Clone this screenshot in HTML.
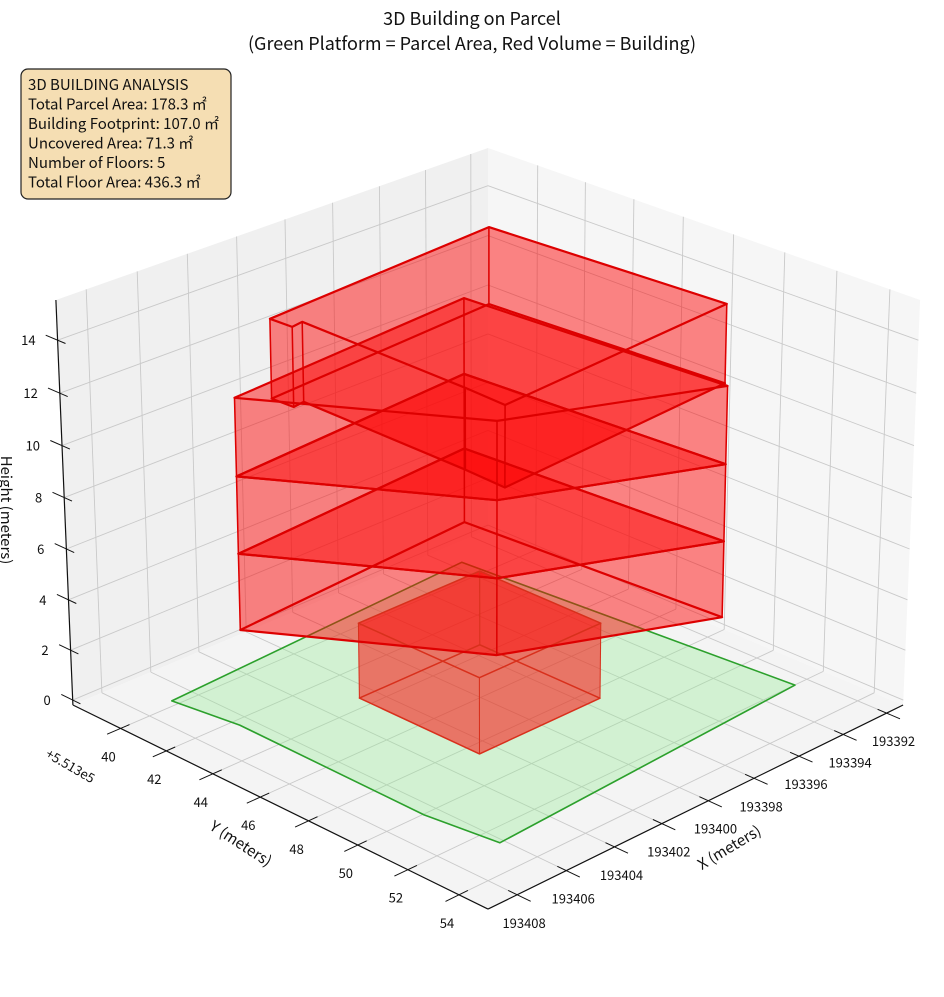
<!DOCTYPE html>
<html><head><meta charset="utf-8"><style>
html,body{margin:0;padding:0;background:#fff;}
svg text{font-family:"Noto Sans CJK JP","Liberation Sans",sans-serif;}
</style></head><body>
<svg id="chart" xmlns="http://www.w3.org/2000/svg" width="944" height="992" viewBox="0 0 944 992">
<g id="panes"></g>
<g id="grid"></g>
<g id="axes"></g>
<g id="parcel"></g>
<g id="building"></g>
<text x="472" y="25" text-anchor="middle" font-size="18" fill="#111">3D Building on Parcel</text>
<text x="472" y="50" text-anchor="middle" font-size="18" fill="#111">(Green Platform = Parcel Area, Red Volume = Building)</text>
<g>
<rect x="21" y="69" width="210" height="130" rx="7" fill="#f5deb3" stroke="#222" stroke-width="1.2"/>
<text x="28" y="90" font-size="15" fill="#111">3D BUILDING ANALYSIS</text>
<text x="28" y="109.5" font-size="15" fill="#111">Total Parcel Area: 178.3 ㎡</text>
<text x="28" y="129" font-size="15" fill="#111">Building Footprint: 107.0 ㎡</text>
<text x="28" y="148.5" font-size="15" fill="#111">Uncovered Area: 71.3 ㎡</text>
<text x="28" y="168" font-size="15" fill="#111">Number of Floors: 5</text>
<text x="28" y="187.5" font-size="15" fill="#111">Total Floor Area: 436.3 ㎡</text>
</g>
<text transform="translate(1,510) rotate(90)" text-anchor="middle" font-size="15" fill="#111">Height (meters)</text>
<text transform="translate(238,848) rotate(33)" text-anchor="middle" font-size="15" fill="#111">Y (meters)</text>
<text transform="translate(732,852) rotate(-31)" text-anchor="middle" font-size="15" fill="#111">X (meters)</text>
<text transform="translate(68,770) rotate(30)" text-anchor="middle" font-size="13" fill="#111">+5.513e5</text>
</svg>
<script>
// ---- data ----
const xTicks = [193392,193394,193396,193398,193400,193402,193404,193406,193408];
const yTicks = [551340,551342,551344,551346,551348,551350,551352,551354];
const yTickLabels = ['40','42','44','46','48','50','52','54'];
const zTicks = [0,2,4,6,8,10,12,14];
const parcelX = [193407.07,193406.69,193406.75,193406.39,193392.81,193393.85];
const parcelY = [551339.98,551342.53,551350.26,551352.91,551352.22,551339.24];
const lowerX = [193397.69,193402.89,193402.89,193397.69];
const lowerY = [551343.74,551343.74,551348.74,551348.74];
const midX = [193405.74,193401.46,193394.78,193395.48];
const midY = [551341.64,551348.07,551350.97,551340.95];
const topX = [193405.01,193395.28,193394.69,193404.63,193404.56,193404.50,193404.97];
const topY = [551342.43,551341.81,551350.79,551351.41,551349.81,551343.24,551343.31];
const floorBase = [0,3,6,9,12];
const floorHeight = [3,3,3,3,3];
const floorShape = ['lower','mid','mid','mid','top'];

// ---- axis functions ----
const XMIN=193391.23, XMAX=193409.17, YMIN=551337.88, YMAX=551355.12, ZMIN=-0.2, ZMAX=15.5;
function P(x,y,z){
  const a=(x-XMIN)/(XMAX-XMIN), b=(y-YMIN)/(YMAX-YMIN), c=(z-ZMIN)/(ZMAX-ZMIN);
  const h=b-a, e=a+b-1, w=1-0.0777*e-0.0402*(c-0.5);
  return [488+423.4*h/w, 506.6+(176.9*e-404.8*(c-0.5))/w];
}
const NS='http://www.w3.org/2000/svg';
function mk(tag,parent,attrs){const el=document.createElementNS(NS,tag);for(const k in attrs)el.setAttribute(k,attrs[k]);parent.appendChild(el);return el;}
function pts(list){return list.map(p=>P(p[0],p[1],p[2]).map(v=>v.toFixed(1)).join(',')).join(' ');}
function line(parent,p1,p2,stroke,sw){const a=P(...p1),b=P(...p2);return mk('line',parent,{x1:a[0].toFixed(1),y1:a[1].toFixed(1),x2:b[0].toFixed(1),y2:b[1].toFixed(1),stroke:stroke,'stroke-width':sw});}

const panes=document.getElementById('panes'), grid=document.getElementById('grid'), axes=document.getElementById('axes');
let el;
el=mk('polygon',panes,{points:pts([[XMIN,YMIN,ZMIN],[XMAX,YMIN,ZMIN],[XMAX,YMIN,ZMAX],[XMIN,YMIN,ZMAX]]),fill:'#f0f0f0'});


el=mk('polygon',panes,{points:pts([[XMIN,YMIN,ZMIN],[XMIN,YMAX,ZMIN],[XMIN,YMAX,ZMAX],[XMIN,YMIN,ZMAX]]),fill:'#f6f6f6'});


el=mk('polygon',panes,{points:pts([[XMIN,YMIN,ZMIN],[XMAX,YMIN,ZMIN],[XMAX,YMAX,ZMIN],[XMIN,YMAX,ZMIN]]),fill:'#f4f4f4'});



const GC='#c9c9c9';
xTicks.forEach(x=>{
  el=line(grid,[x,YMIN,ZMIN],[x,YMAX,ZMIN],GC,0.9);
  
  
  el=line(grid,[x,YMIN,ZMIN],[x,YMIN,ZMAX],GC,0.9);
  
  
});
yTicks.forEach(y=>{
  el=line(grid,[XMIN,y,ZMIN],[XMAX,y,ZMIN],GC,0.9);
  
  
  el=line(grid,[XMIN,y,ZMIN],[XMIN,y,ZMAX],GC,0.9);
  
  
});
zTicks.forEach(z=>{
  el=line(grid,[XMIN,YMIN,z],[XMAX,YMIN,z],GC,0.9);
  
  
  el=line(grid,[XMIN,YMIN,z],[XMIN,YMAX,z],GC,0.9);
  
  
});

// axis lines
el=line(axes,[XMAX,YMIN,ZMIN],[XMAX,YMAX,ZMIN],'#111',1.2);


el=line(axes,[XMIN,YMAX,ZMIN],[XMAX,YMAX,ZMIN],'#111',1.2);


el=line(axes,[XMAX,YMIN,ZMIN],[XMAX,YMIN,ZMAX],'#111',1.2);



const dY=(YMAX-YMIN), dX=(XMAX-XMIN);
xTicks.forEach((x,i)=>{
  el=line(axes,[x,YMAX-0.02*dY,ZMIN],[x,YMAX+0.03*dY,ZMIN],'#111',1);
  
  
  const p=P(x,YMAX,ZMIN);
  const t=mk('text',axes,{x:(p[0]+7).toFixed(1),y:(p[1]+33).toFixed(1),'text-anchor':'middle','font-size':'13',fill:'#111'});
  t.textContent=String(x);
  
  
});
yTicks.forEach((y,i)=>{
  el=line(axes,[XMAX-0.02*dX,y,ZMIN],[XMAX+0.03*dX,y,ZMIN],'#111',1);
  
  
  const p=P(XMAX,y,ZMIN);
  const t=mk('text',axes,{x:(p[0]-12).toFixed(1),y:(p[1]+33).toFixed(1),'text-anchor':'middle','font-size':'13',fill:'#111'});
  t.textContent=yTickLabels[i];
  
  
});
zTicks.forEach(z=>{
  el=line(axes,[XMAX,YMIN+0.02*dY,z],[XMAX,YMIN-0.03*dY,z],'#111',1);
  
  
  const p=P(XMAX,YMIN,z);
  const t=mk('text',axes,{x:(p[0]-22).toFixed(1),y:(p[1]+5).toFixed(1),'text-anchor':'end','font-size':'13',fill:'#111'});
  t.textContent=String(z);
  
  
});

// parcel
const parcel=document.getElementById('parcel');
el=mk('polygon',parcel,{points:pts(parcelX.map((x,i)=>[x,parcelY[i],0])),fill:'rgba(144,238,144,0.33)',stroke:'#2ca02c','stroke-width':1.6,'stroke-linejoin':'round'});



// building
const bld=document.getElementById('building');
const shapes={lower:[lowerX,lowerY],mid:[midX,midY],top:[topX,topY]};
const edges=[];
floorBase.forEach((z0,fi)=>{
  const [xs,ys]=shapes[floorShape[fi]];
  const z1=z0+floorHeight[fi];
  const n=xs.length;
  const op = fi===0 ? 0.3 : 0.27;
  const g=mk('g',bld,{});
  
  
  const bot=xs.map((x,i)=>[x,ys[i],z0]), top=xs.map((x,i)=>[x,ys[i],z1]);
  let f=mk('polygon',g,{points:pts(bot),fill:'#ff0000','fill-opacity':op});
  
  
  for(let i=0;i<n;i++){
    const j=(i+1)%n;
    f=mk('polygon',g,{points:pts([bot[i],bot[j],top[j],top[i]]),fill:'#ff0000','fill-opacity':op});
    
    
  }
  f=mk('polygon',g,{points:pts(top),fill:'#ff0000','fill-opacity':op});
  
  
  edges.push([fi,bot,top]);
});
edges.forEach(([fi,bot,top])=>{
  const col = fi===0 ? '#d8301c' : '#dd0000';
  const sw = fi===0 ? 1.5 : 2.2;
  const g=mk('g',bld,{});
  
  
  let e=mk('polygon',g,{points:pts(bot),fill:'none',stroke:col,'stroke-width':sw,'stroke-linejoin':'round'});
  
  
  e=mk('polygon',g,{points:pts(top),fill:'none',stroke:col,'stroke-width':sw,'stroke-linejoin':'round'});
  
  
  bot.forEach((b,i)=>{
    e=line(g,b,top[i],col,sw*0.7);
    
    
  });
});
</script>
</body></html>
